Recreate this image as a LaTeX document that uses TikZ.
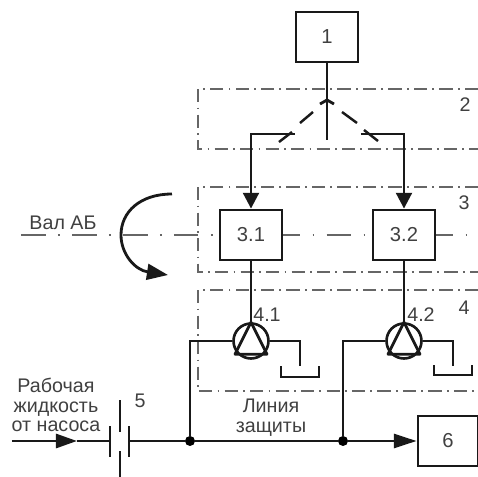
\documentclass[tikz,border=0pt]{standalone}
\usepackage{fontspec}
\setmainfont{Liberation Sans}
\usetikzlibrary{arrows.meta,positioning}

\begin{document}
\begin{tikzpicture}[
  x=0.02cm,y=-0.02cm,
  blockbox/.style={rectangle,draw=black!90,line width=1.6pt,minimum width=1.24cm,minimum height=1cm,
                   inner sep=0pt,font=\fontsize{11.5}{13}\selectfont,text=black!75},
  pumpbox/.style={circle,draw=black!90,line width=1.5pt,minimum size=0.7cm,inner sep=0pt},
  junction/.style={circle,fill=black,inner sep=0pt,minimum size=0.2cm},
  pipe/.style={draw=black!90,line width=1.6pt},
  arr/.style={pipe,-{Triangle[length=9pt,width=9pt]}},
  longarr/.style={pipe,-{Triangle[length=13pt,width=8pt]}},
  zone/.style={draw=black!60,line width=0.9pt,dash pattern=on 7.5pt off 3pt on 1pt off 3pt},
  axisline/.style={draw=black!60,line width=0.9pt,dash pattern=on 14pt off 7pt on 1pt off 7pt},
  lbl/.style={font=\fontsize{11.2}{11.3}\selectfont,text=black!75,inner sep=0pt},
]
\useasboundingbox (0,0) rectangle (478,477);

% Zones
\draw[zone] (478,89) -| (198,149) -- (478,149);
\draw[zone] (478,187) -| (198,272) -- (478,272);
\draw[zone] (478,290) -| (198,391) -- (478,391);

% Shaft axis
\coordinate (axisL) at (21,235);
\coordinate (axisR) at (468,235);
\draw[axisline] (axisL) -- (axisR);

% Blocks
\node[blockbox] (b1) at (327,37) {1};
\node[blockbox,fill=white] (b31) at (251,235) {3.1};
\node[blockbox,fill=white] (b32) at (404,235) {3.2};
\node[blockbox,minimum width=1.2cm] (b6) at (448,441) {6};

% Pumps
\node[pumpbox] (p41) at (251,341) {};
\node[pumpbox] (p42) at (404,341) {};
\draw[pipe,line join=round] (p41.north) -- ++(-16,32) -- ++(32,0) -- cycle;
\draw[pipe,line join=round] (p42.north) -- ++(-16,32) -- ++(32,0) -- cycle;

% Valve 2
\coordinate (v2stem) at (327,140);
\coordinate (v2apex) at (327,100);
\coordinate (v2L) at (295,134);
\coordinate (v2R) at (361,134);
\draw[pipe] (b1) -- (v2stem);
\draw[pipe] (320,104) -- (v2apex) -- (334,104);
\draw[pipe,line width=1.4pt] (279,142) -- (292,132) (300,123) -- (313,112);
\draw[pipe,line width=1.4pt] (342,112) -- (357,123) (364,130) -- (378,141);
\draw[arr] (v2L) -| (b31);
\draw[arr] (v2R) -| (b32);

% Shaft to pump
\draw[pipe] (b31) -- (p41);
\draw[pipe] (b32) -- (p42);

% Tanks
\coordinate (t1) at (300,366);
\coordinate (t2) at (453,366);
\draw[pipe] (p41) -- (t1 |- p41) -- (t1);
\draw[pipe] (p42) -- (t2 |- p42) -- (t2);
\draw[pipe,line width=1.4pt] (281,366) |- (319,377) -- (319,366);
\draw[pipe,line width=1.4pt] (434,365) |- (472,375) -- (472,365);

% Main line
\coordinate (inL) at (12,441);
\coordinate (inM) at (77,441);
\coordinate (plateL) at (110,441);
\coordinate (plateR) at (129,441);
\node[junction] (j1) at (190,441) {};
\node[junction] (j2) at (343,441) {};
\draw[pipe,-{Triangle[length=12pt,width=8pt]}] (inL) -- (inM);
\draw[pipe] (inM) -- (plateL);
\draw[pipe] (plateR) -- (j1);
\draw[pipe] (j1) -- (j2);
\draw[longarr] (j2) -- (b6);
\draw[pipe] (j1) |- (p41);
\draw[pipe] (j2) |- (p42);

% Valve 5
\draw[pipe,line width=1.4pt] (110,426) -- (110,457);
\draw[pipe,line width=1.4pt] (129,426) -- (129,457);
\draw[pipe,line width=1.4pt] (120,400) -- (120,432);
\draw[pipe,line width=1.4pt] (120,451) -- (120,477);

% Rotation arrow
\coordinate (rotA) at (172,194);
\coordinate (rotB) at (168,275);
\draw[pipe,-{Triangle[length=12pt,width=9pt]}] (rotA) .. controls (140,194) and (121,212) .. (121,235)
  .. controls (121,254) and (135,270) .. (rotB);

% Labels
\node[lbl] (l2) at (465,105) {2};
\node[lbl] (l3) at (464,203) {3};
\node[lbl] (l4) at (464,308) {4};
\node[lbl] (l41) at (267,315) {4.1};
\node[lbl] (l42) at (421,315) {4.2};
\node[lbl] (l5) at (140,401) {5};
\node[lbl] (shaft) at (63,223) {Вал АБ};
\node[lbl,align=center] (fluid) at (56,405) {Рабочая\\жидкость\\от насоса};
\node[lbl,align=center] (prot) at (271,418) {Линия\\защиты};

\end{tikzpicture}
\end{document}
